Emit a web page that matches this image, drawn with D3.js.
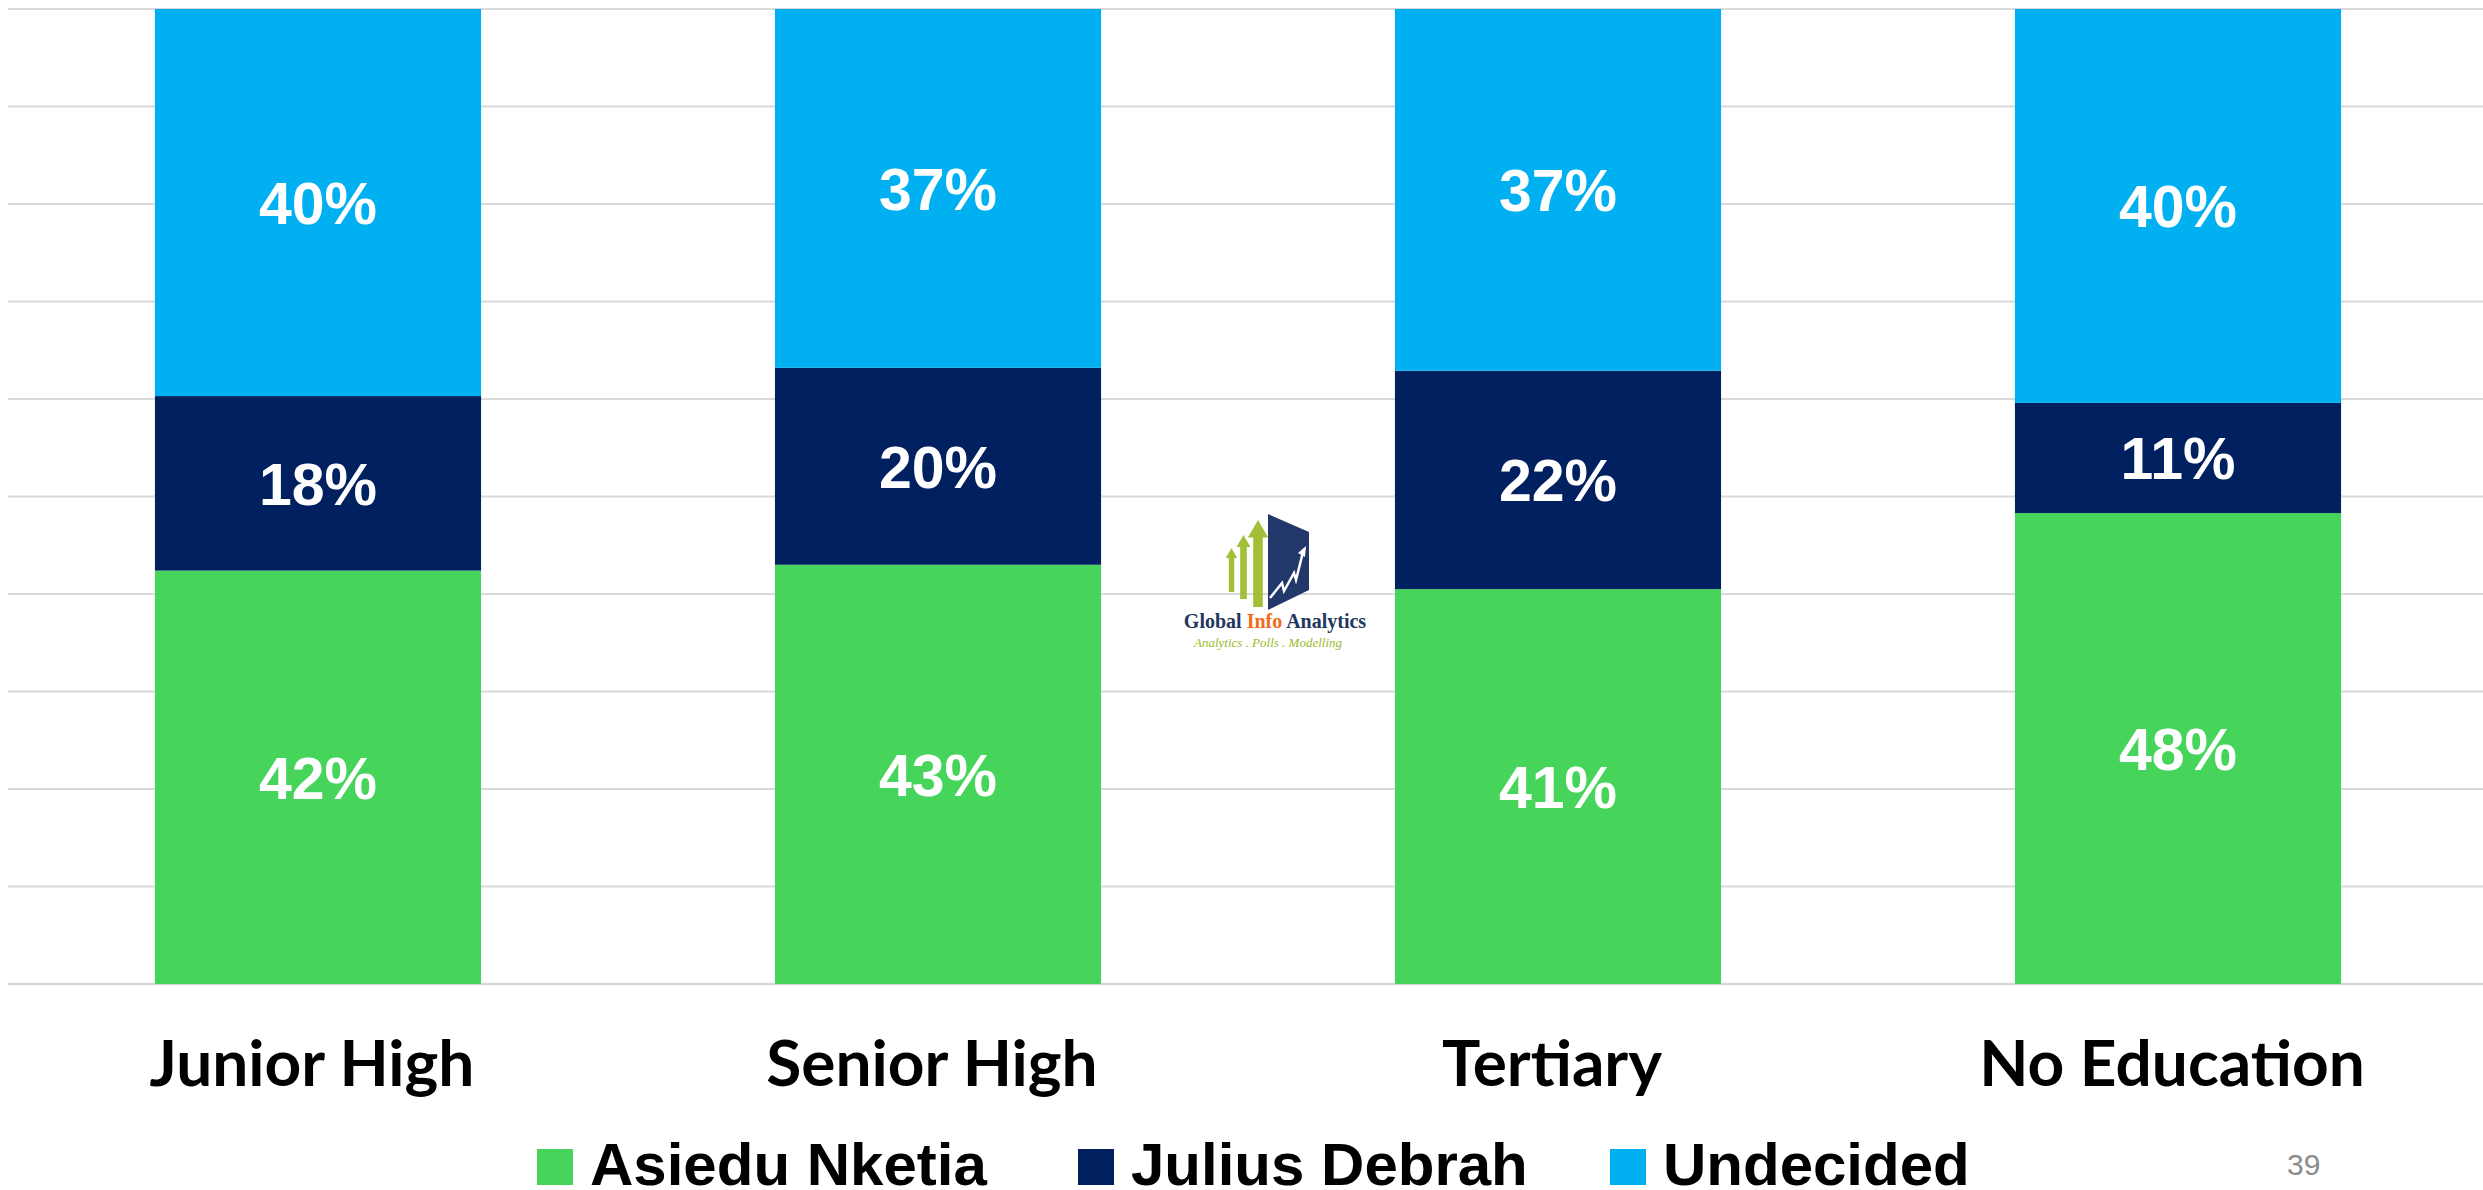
<!DOCTYPE html>
<html>
<head>
<meta charset="utf-8">
<script src="https://cdn.jsdelivr.net/npm/d3@7"></script>
<style>
html,body{margin:0;padding:0;background:#fff;}
svg{display:block;}
</style>
</head>
<body>
<svg id="chart" width="2483" height="1190"></svg>
<script>
const categories = ["Junior High", "Senior High", "Tertiary", "No Education"];
const seriesNames = ["Asiedu Nketia", "Julius Debrah", "Undecided"];
const asieduNketia = [42.4, 43.0, 40.5, 48.3];
const juliusDebrah = [17.9, 20.2, 22.4, 11.3];
const undecided = [39.7, 36.8, 37.1, 40.4];
const seriesColors = ["#47d45a", "#002060", "#00b0f0"];
const yTicks = [0, 10, 20, 30, 40, 50, 60, 70, 80, 90, 100];
const pageNumber = "39";

const svg = d3.select("#chart");
const W = 2483, H = 1190;

const x = d3.scaleBand().domain(categories).range([8, 2488]).paddingInner(0.474).paddingOuter(0.237);
const y = d3.scaleLinear().domain([0, 100]).range([984, 9]);

// gridlines
svg.append("g").selectAll("line").data(yTicks).join("line")
  .attr("x1", 8).attr("x2", W)
  .attr("y1", d => y(d)).attr("y2", d => y(d))
  .attr("stroke", "#d9d9d9").attr("stroke-width", d => d === 0 ? 2.5 : 2);

const rows = categories.map((c, i) => ({cat: c, s0: asieduNketia[i], s1: juliusDebrah[i], s2: undecided[i]}));
const stack = d3.stack().keys(["s0", "s1", "s2"])(rows);

const layers = svg.append("g").selectAll("g").data(stack).join("g")
  .attr("fill", (d, i) => seriesColors[i]);

layers.selectAll("rect").data(d => d).join("rect")
  .attr("x", d => x(d.data.cat))
  .attr("width", x.bandwidth())
  .attr("y", d => y(d[1]))
  .attr("height", d => y(d[0]) - y(d[1]));

layers.selectAll("text").data(d => d).join("text")
  .attr("x", d => x(d.data.cat) + x.bandwidth() / 2)
  .attr("y", d => (y(d[0]) + y(d[1])) / 2)
  .attr("dy", "0.36em")
  .attr("text-anchor", "middle")
  .attr("fill", "#ffffff")
  .attr("font-family", "Liberation Sans, Arial, sans-serif")
  .attr("font-weight", "bold")
  .attr("font-size", 59)
  .text(d => Math.round(d[1] - d[0]) + "%");

// category axis labels
svg.append("g").selectAll("text").data(categories).join("text")
  .attr("x", d => x(d) + x.bandwidth() / 2 - 6)
  .attr("y", 1086)
  .attr("text-anchor", "middle")
  .attr("font-family", "Lato, sans-serif")
  .attr("font-weight", "bold")
  .attr("font-size", 64)
  .attr("fill", "#000")
  .text(d => d);

// legend
const legendX = [537, 1078, 1610];
const lg = svg.append("g").selectAll("g").data(seriesNames).join("g")
  .attr("transform", (d, i) => `translate(${legendX[i]},0)`);
lg.append("rect").attr("x", 0).attr("y", 1149).attr("width", 36).attr("height", 36)
  .attr("fill", (d, i) => seriesColors[i]);
lg.append("text").attr("x", 53).attr("y", 1185)
  .attr("font-family", "Liberation Sans, Arial, sans-serif")
  .attr("font-weight", "bold").attr("font-size", 60).attr("fill", "#000")
  .text(d => d);

// page number
svg.append("text").attr("x", 2287).attr("y", 1175)
  .attr("font-family", "Liberation Sans, Arial, sans-serif")
  .attr("font-size", 30).attr("fill", "#8c8c8c").text(pageNumber);

// logo
const logo = svg.append("g");
const arrowGreen = "#a2c037";
function arrow(x0, x1, top, bottom) {
  const w = x1 - x0, hw = w * 0.45;
  const head = w * 1.1;
  return `M${x0 + w*0.2},${bottom} L${x0 + w*0.2},${top + head} L${x0 - hw*0.3},${top + head} L${(x0+x1)/2},${top} L${x1 + hw*0.3},${top + head} L${x1 - w*0.2},${top + head} L${x1 - w*0.2},${bottom} Z`;
}
logo.append("path").attr("d", arrow(1227, 1236, 548, 592)).attr("fill", arrowGreen);
logo.append("path").attr("d", arrow(1238, 1249, 535, 599)).attr("fill", arrowGreen);
logo.append("path").attr("d", arrow(1250, 1266, 520, 607)).attr("fill", arrowGreen);
logo.append("path").attr("d", "M1268,514 L1309,532 L1309,590 L1268,610 Z").attr("fill", "#22386a");
logo.append("path").attr("d", "M1270,598 L1282,583 L1284,591 L1294,573 L1296,580 L1303,552")
  .attr("fill", "none").attr("stroke", "#fff").attr("stroke-width", 2.5);
logo.append("path").attr("d", "M1298,553 L1306,546 L1305,557 Z").attr("fill", "#fff");
const t1 = logo.append("text").attr("x", 1275).attr("y", 628).attr("text-anchor", "middle")
  .attr("font-family", "Liberation Serif, Times New Roman, serif").attr("font-weight", "bold")
  .attr("font-size", 20).attr("fill", "#22375e");
t1.append("tspan").text("Global ");
t1.append("tspan").attr("fill", "#f26a1b").text("Info");
t1.append("tspan").text(" Analytics");
logo.append("text").attr("x", 1268).attr("y", 647).attr("text-anchor", "middle")
  .attr("font-family", "Liberation Serif, serif").attr("font-style", "italic")
  .attr("font-size", 13).attr("fill", "#9bbb2a").text("Analytics . Polls . Modelling");
</script>
</body>
</html>
